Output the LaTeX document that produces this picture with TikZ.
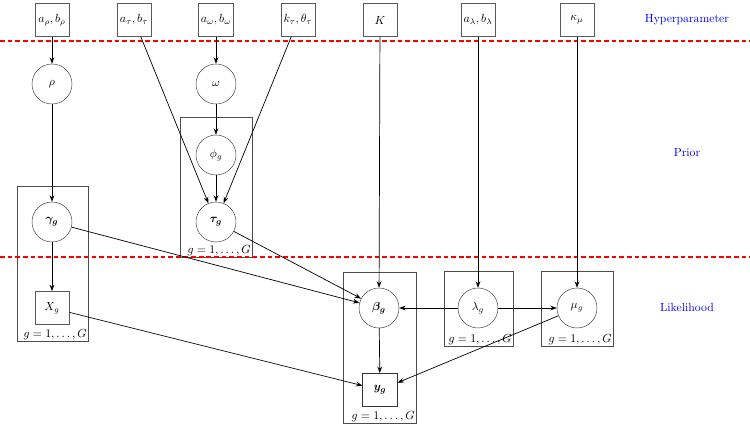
\documentclass[tikz,border=0pt]{standalone}
\usepackage{amsmath,bm}
\usetikzlibrary{arrows.meta,positioning}
\begin{document}
\begin{tikzpicture}[x=0.85pt,y=-0.85pt,
  latent/.style={circle,draw=black!75,minimum size=34pt,inner sep=0pt},
  obs/.style={rectangle,draw=black!65,line width=0.6pt,minimum width=29pt,minimum height=28pt,inner sep=2pt},
  plate/.style={draw=black!70,line width=0.6pt},
  platelabel/.style={anchor=south east,inner sep=1pt},
  edge/.style={-{Stealth[length=5.5pt,width=4pt]},line width=0.6pt},
  sep/.style={red,dashed,dash pattern=on 4pt off 2.5pt,line width=1pt},
  lvl/.style={text=blue}]
\useasboundingbox (0,0) rectangle (750,426);
% plates
\draw[plate] (180,117) rectangle (252,257);
\node[platelabel] at (252,257) (pl1) {$g=1,\ldots,G$};
\draw[plate] (17,186) rectangle (88,341);
\node[platelabel] at (88,341) (pl2) {$g=1,\ldots,G$};
\draw[plate] (343,272) rectangle (416,423);
\node[platelabel] at (416,423) (pl3) {$g=1,\ldots,G$};
\draw[plate] (444,271) rectangle (513,346);
\node[platelabel] at (513,346) (pl4) {$g=1,\ldots,G$};
\draw[plate] (541,271) rectangle (613,346);
\node[platelabel] at (613,346) (pl5) {$g=1,\ldots,G$};
% separators
\draw[sep] (0,41) -- (750,41);
\draw[sep] (0,257) -- (750,257);
% hyperparameters
\node[obs] (arho) at (52,20) {$a_\rho,b_\rho$};
\node[obs] (atau) at (134,20) {$a_\tau,b_\tau$};
\node[obs] (aomega) at (216,20) {$a_\omega,b_\omega$};
\node[obs] (ktau) at (298,20) {$k_\tau,\theta_\tau$};
\node[obs] (K) at (380,20) {$K$};
\node[obs] (alambda) at (478,20) {$a_\lambda,b_\lambda$};
\node[obs] (kappa) at (577,20) {$\kappa_\mu$};
% level labels
\node[lvl] (lh) at (687,20) {Hyperparameter};
\node[lvl] (lp) at (687,153) {Prior};
\node[lvl] (ll) at (687,307) {Likelihood};
% latent
\node[latent] (rho) at (52,84) {$\rho$};
\node[latent] (omega) at (216,84) {$\omega$};
\node[latent] (phi) at (216,155) {$\phi_g$};
\node[latent] (tau) at (216,222) {$\bm{\tau_g}$};
\node[latent] (gamma) at (52,222) {$\bm{\gamma_g}$};
\node[obs] (X) at (52,308) {$X_g$};
\node[latent] (beta) at (379,308) {$\bm{\beta_g}$};
\node[latent] (lambda) at (478,308) {$\lambda_g$};
\node[latent] (mu) at (577,308) {$\mu_g$};
\node[obs,line width=0.8pt,draw=black!80] (y) at (380,390) {$\bm{y_g}$};
% edges
\draw[edge] (arho) -- (rho);
\draw[edge] (rho) -- (gamma);
\draw[edge] (gamma) -- (X);
\draw[edge] (aomega) -- (omega);
\draw[edge] (omega) -- (phi);
\draw[edge] (phi) -- (tau);
\draw[edge] (atau) -- (tau);
\draw[edge] (ktau) -- (tau);
\draw[edge] (gamma) -- (beta);
\draw[edge] (tau) -- (beta);
\draw[edge] (K) -- (beta);
\draw[edge] (alambda) -- (lambda);
\draw[edge] (kappa) -- (mu);
\draw[edge] (lambda) -- (beta);
\draw[edge] (lambda) -- (mu);
\draw[edge] (beta) -- (y);
\draw[edge] (X) -- (y);
\draw[edge] (mu) -- (y);
\end{tikzpicture}
\end{document}
